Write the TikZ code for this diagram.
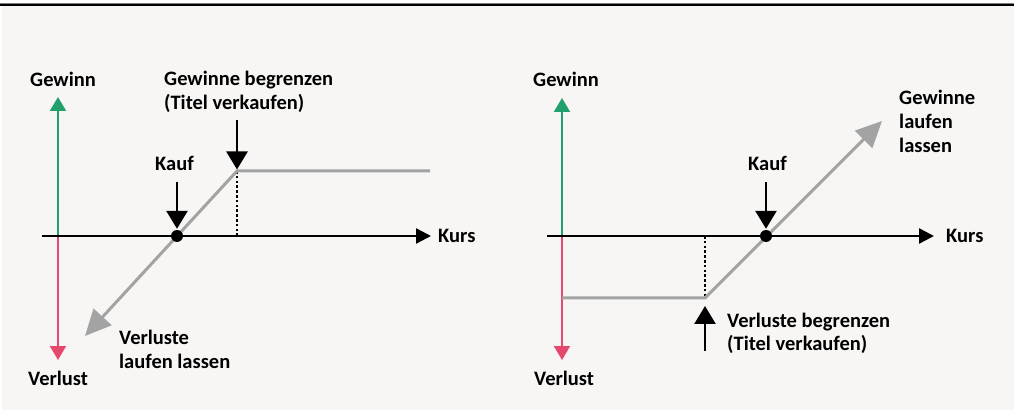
\documentclass[tikz,border=0pt]{standalone}
\usepackage{fontspec}
\setmainfont{Carlito}
\usetikzlibrary{arrows.meta}
\definecolor{panel}{HTML}{F7F6F4}
\definecolor{gain}{HTML}{22A06B}
\definecolor{loss}{HTML}{E4496D}
\definecolor{curve}{HTML}{A3A3A3}
\tikzset{
  lbl/.style={font=\fontsize{20.5}{24}\selectfont\bfseries, inner sep=0pt, anchor=base west, align=left, text=black},
  axis/.style={line width=2.4pt, -{Triangle[length=15pt,width=15pt]}},
  gainax/.style={gain, line width=2pt, -{Triangle[length=14pt,width=16pt]}},
  lossax/.style={loss, line width=2pt, -{Triangle[length=14pt,width=16pt]}},
  curvepath/.style={curve, line width=3pt, line join=miter},
  curvearrow/.style={curvepath, -{Triangle[length=26pt,width=24pt]}},
  pointer/.style={line width=2.6pt, -{Triangle[length=18pt,width=21pt]}},
  guide/.style={line width=2.4pt, dash pattern=on 2.6pt off 2.2pt},
  dot/.style={circle, fill=black, inner sep=0pt, minimum size=12pt},
}
\begin{document}
\begin{tikzpicture}[x=1pt, y=-1pt]
\useasboundingbox (0,0) rectangle (1014,411);
% panel and top rule
\fill[white] (0,0) rectangle (1014,411);
\fill[panel] (1.5,6) rectangle (1014,409.5);
\draw[gray, line width=0.8pt] (0,3.6) -- (1014,3.6);
\draw[black, line width=1.6pt] (0,5.2) -- (1014,5.2);

% ---------- left chart: Gewinne begrenzen ----------
\coordinate (Lo)   at (58,236);
\coordinate (Lup)  at (58,97);
\coordinate (Ldn)  at (58,360);
\coordinate (Lxs)  at (42,236);
\coordinate (Lxe)  at (431,236);
\coordinate (Lcap) at (237,171);
\coordinate (Lend) at (430,171);
\coordinate (Lfall) at (85,336);
\coordinate (Lbase) at (237,236);
\coordinate (Lkt)  at (177,182);
\coordinate (Lgt)  at (237,120);

\draw[gainax] (Lo) -- (Lup);
\draw[lossax] (Lo) -- (Ldn);
\draw[axis] (Lxs) -- (Lxe);
\draw[guide] (Lbase) -- (Lcap);
\draw[curvearrow] (Lend) -- (Lcap) -- (Lfall);
\node[dot] (Lk) at (177,236) {};
\draw[pointer, shorten >=1pt] (Lkt) -- (Lk.north);
\draw[pointer, shorten >=1.5pt] (Lgt) -- (Lcap);

% labels (multi-line nodes sit on the baseline of their last line)
\node[lbl] (Lgain) at (30,87) {Gewinn};
\node[lbl] (Lloss) at (28,385) {Verlust};
\node[lbl] (Lkurs) at (438,243) {Kurs};
\node[lbl] (Lkauf) at (155,171) {Kauf};
\node[lbl] (Llimit) at (164,110) {Gewinne begrenzen\\(Titel verkaufen)};
\node[lbl] (Lrun) at (119,368) {Verluste\\laufen lassen};

% ---------- right chart: Verluste begrenzen ----------
\coordinate (Ro)   at (562,236);
\coordinate (Rup)  at (562,98);
\coordinate (Rdn)  at (562,360);
\coordinate (Rxs)  at (547,236);
\coordinate (Rxe)  at (934,236);
\coordinate (Rfloor) at (705,298);
\coordinate (Rstart) at (562,298);
\coordinate (Rrise) at (882,121);
\coordinate (Rbase) at (705,236);
\coordinate (Rkt)  at (766,182);
\coordinate (Rvt)  at (705,351);

\draw[gainax] (Ro) -- (Rup);
\draw[lossax] (Ro) -- (Rdn);
\draw[axis] (Rxs) -- (Rxe);
\draw[guide] (Rbase) -- (Rfloor);
\draw[curvearrow] (Rstart) -- (Rfloor) -- (Rrise);
\node[dot] (Rk) at (766,236) {};
\draw[pointer, shorten >=1pt] (Rkt) -- (Rk.north);
\draw[pointer, shorten >=8pt] (Rvt) -- (Rfloor);

\node[lbl] (Rgain) at (533,87) {Gewinn};
\node[lbl] (Rloss) at (534,385) {Verlust};
\node[lbl] (Rkurs) at (946,243) {Kurs};
\node[lbl] (Rkauf) at (748,171) {Kauf};
\node[lbl] (Rrun) at (899,153) {Gewinne\\laufen\\lassen};
\node[lbl] (Rlimit) at (727,351) {Verluste begrenzen\\(Titel verkaufen)};
\end{tikzpicture}
\end{document}
